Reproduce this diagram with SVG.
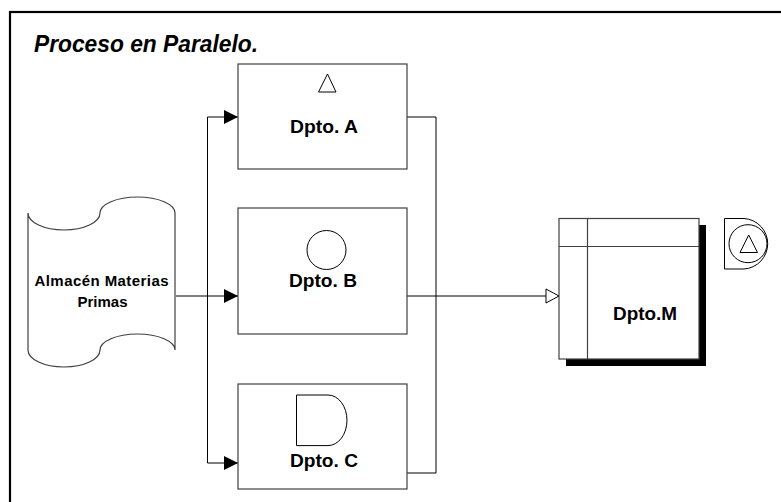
<svg xmlns="http://www.w3.org/2000/svg" width="781" height="502" viewBox="0 0 781 502">
<style>
.box{fill:#fff;stroke:#404040;stroke-width:1.2}
.sym{fill:#fff;stroke:#000;stroke-width:1}
.lbl{font-family:"Liberation Sans",Arial,sans-serif;font-weight:bold;font-size:18px;fill:#000;text-anchor:middle}
.small{font-size:15px}
.conn{fill:none;stroke:#000;stroke-width:1}
</style>
<defs>
<marker id="solid" markerUnits="userSpaceOnUse" markerWidth="14" markerHeight="14" refX="14" refY="7" orient="auto" viewBox="0 0 14 14">
<path d="M0,0 L14,7 L0,14 z" fill="#000"/>
</marker>
<marker id="hollow" markerUnits="userSpaceOnUse" markerWidth="16" markerHeight="16" refX="14" refY="8" orient="auto" viewBox="0 0 16 16">
<path d="M1,1 L14,8 L1,15 z" fill="#fff" stroke="#000" stroke-width="1"/>
</marker>
</defs>
<rect x="0" y="0" width="781" height="502" fill="#fff"/>
<rect x="10" y="12" width="800" height="520" fill="none" stroke="#000" stroke-width="2.2"/>
<text x="34" y="52" font-family="'Liberation Sans',Arial,sans-serif" font-weight="bold" font-style="italic" font-size="23" fill="#000" textLength="224" lengthAdjust="spacingAndGlyphs">Proceso en Paralelo.</text>

<g id="connectors">
<polyline class="conn" points="176,296 207.5,296"/>
<polyline class="conn" points="207.5,296 207.5,117 238,117" marker-end="url(#solid)"/>
<polyline class="conn" points="207.5,296 238,296" marker-end="url(#solid)"/>
<polyline class="conn" points="207.5,296 207.5,463 238,463" marker-end="url(#solid)"/>
<polyline class="conn" points="407,117 436,117 436,473 407,473"/>
<polyline class="conn" points="407,296 559,296" marker-end="url(#hollow)"/>
</g>

<g id="almacen">
<path class="box" d="M28,213 A36,17 0 0 0 100,213 A37.5,16 0 0 1 175,213 L175,350 A37.5,16 0 0 0 100,350 A36,17 0 0 1 28,350 Z"/>
<text class="lbl small" x="101.5" y="286" textLength="134" lengthAdjust="spacing">Almacén Materias</text>
<text class="lbl small" x="102.5" y="307">Primas</text>
</g>

<g id="dptoA">
<rect class="box" x="238" y="64" width="169" height="105"/>
<path class="sym" d="M318.5,92 L336,92 L327.5,74 Z"/>
<text class="lbl" x="324" y="133" textLength="68" lengthAdjust="spacingAndGlyphs">Dpto. A</text>
</g>

<g id="dptoB">
<rect class="box" x="238" y="208" width="169" height="126"/>
<circle class="sym" cx="326.5" cy="250" r="19.5"/>
<text class="lbl" x="323" y="287" textLength="68" lengthAdjust="spacingAndGlyphs">Dpto. B</text>
</g>

<g id="dptoC">
<rect class="box" x="238" y="384" width="169" height="105"/>
<path class="sym" d="M296.5,395 H328 A19,25.3 0 0 1 328,445.6 H296.5 Z"/>
<text class="lbl" x="324" y="467" textLength="68" lengthAdjust="spacingAndGlyphs">Dpto. C</text>
</g>

<g id="dptoM">
<rect x="566" y="225" width="140" height="141" fill="#000"/>
<rect class="box" x="559" y="218.5" width="140" height="140.5"/>
<line class="box" x1="587.5" y1="218.5" x2="587.5" y2="359"/>
<line class="box" x1="559" y1="246.5" x2="699" y2="246.5"/>
<text class="lbl" x="645" y="320" textLength="64" lengthAdjust="spacingAndGlyphs">Dpto.M</text>
</g>

<g id="iconM">
<path class="sym" d="M724.5,218.5 H744 A25.3,25.3 0 0 1 744,269 H724.5 Z"/>
<circle class="sym" cx="748" cy="243.7" r="19"/>
<path class="sym" d="M740,252.5 L757.5,252.5 L748.7,235 Z"/>
</g>
</svg>
